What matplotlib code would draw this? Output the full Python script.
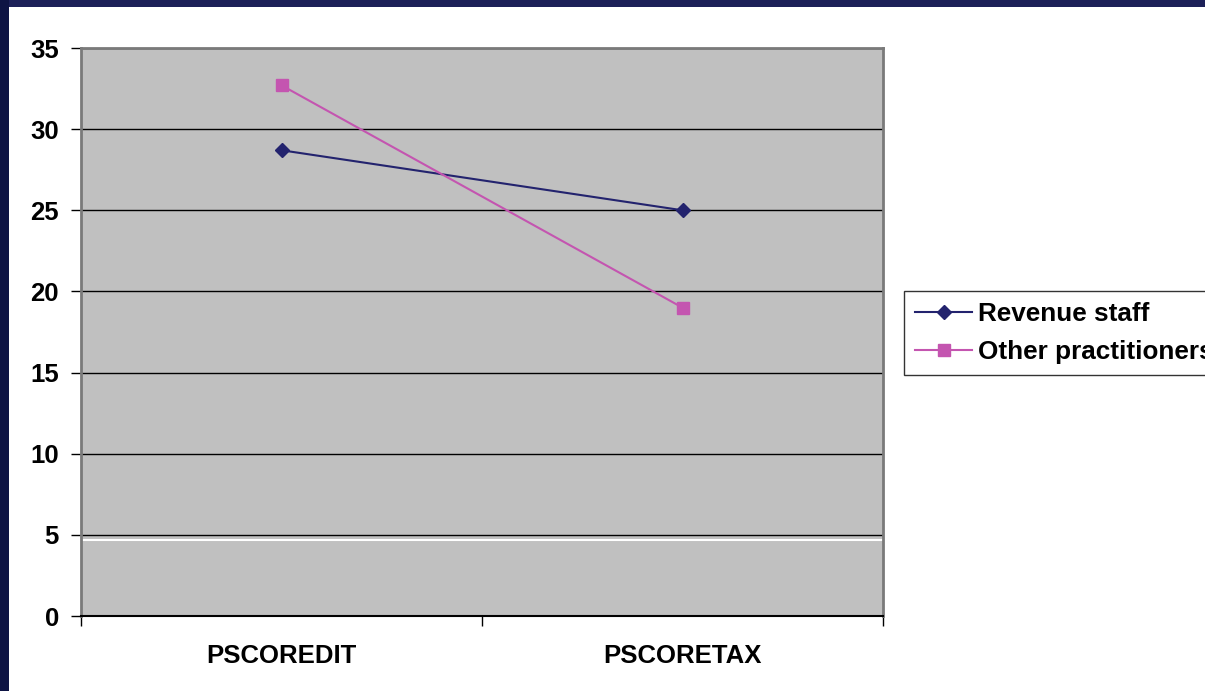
import matplotlib.pyplot as plt
from matplotlib.patches import Rectangle

# Mean scores by question group
categories = ["PSCOREDIT", "PSCORETAX"]
revenue_staff = [28.7, 25.0]
other_practitioners = [32.7, 19.0]
y_ticks = [0, 5, 10, 15, 20, 25, 30, 35]

plt.rcParams['font.family'] = ['Liberation Sans', 'DejaVu Sans']
plt.rcParams['font.weight'] = 'bold'

fig = plt.figure(figsize=(12.05, 6.91), dpi=100)
fig.patch.set_facecolor('white')

# slide frame at the top and left edges
fig.patches.append(Rectangle((0, 1 - 7 / 691), 1, 7 / 691, transform=fig.transFigure,
                             facecolor='#1c2058', edgecolor='none', zorder=0))
fig.patches.append(Rectangle((0, 0), 9 / 1205, 1, transform=fig.transFigure,
                             facecolor='#0e1444', edgecolor='none', zorder=0))

ax = fig.add_axes([81 / 1205, 75 / 691, 802 / 1205, 568 / 691])
ax.set_facecolor('#c0c0c0')

x = list(range(len(categories)))
ax.plot(x, revenue_staff, color='#23236e', lw=1.5, marker='D', markersize=6.8,
        label='Revenue staff', zorder=3)
ax.plot(x, other_practitioners, color='#c455b0', lw=1.5, marker='s', markersize=8.4,
        label='Other practitioners', zorder=3)

ax.set_ylim(0, 35)
ax.set_xlim(-0.5, len(categories) - 0.5)
ax.set_yticks(y_ticks)
ax.yaxis.grid(True, color='black', lw=1)
ax.set_axisbelow(True)
ax.axhline(4.68, color='white', lw=1.5, zorder=1)

# category labels between the boundary ticks
ax.set_xticks([i - 0.5 for i in range(len(categories) + 1)])
ax.set_xticklabels([])
ax.set_xticks(x, minor=True)
ax.set_xticklabels(categories, minor=True, fontsize=18.5, fontweight='bold')
ax.tick_params(axis='x', which='minor', length=0, pad=20)
ax.tick_params(axis='x', which='major', length=7, width=1, color='black', direction='out')
ax.tick_params(axis='y', length=7, width=1, color='black', pad=9, labelsize=18.5)

for side in ['top', 'right', 'left']:
    ax.spines[side].set_color('#7a7a7a')
    ax.spines[side].set_linewidth(2)
ax.spines['bottom'].set_color('black')
ax.spines['bottom'].set_linewidth(1.5)

leg = ax.legend(loc='upper left', bbox_to_anchor=(904 / 1205, 1 - 291 / 691),
                bbox_transform=fig.transFigure, frameon=True, fancybox=False,
                prop={'size': 18.8, 'weight': 'bold'}, handlelength=2.2,
                handletextpad=0.2, labelspacing=0.55, borderpad=0.42,
                borderaxespad=0)
leg.get_frame().set_edgecolor('black')
leg.get_frame().set_linewidth(1)

fig.savefig('out.png', dpi=100)
